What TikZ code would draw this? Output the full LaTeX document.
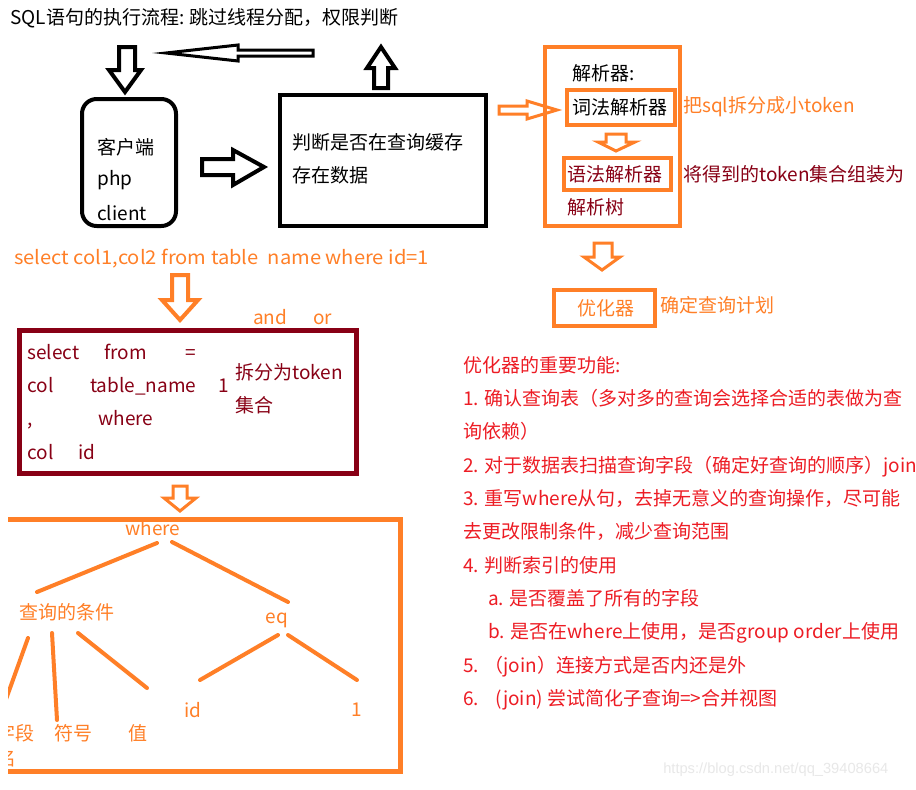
\documentclass[tikz,border=0pt]{standalone}
\usepackage{fontspec}
\setmainfont{Noto Sans CJK SC}
\newfontfamily\widefont[FakeStretch=1.06]{Noto Sans CJK SC}
\newfontfamily\markfont{Liberation Sans}
\definecolor{paintorange}{HTML}{FF7F27}
\definecolor{paintdarkred}{HTML}{880015}
\definecolor{paintred}{HTML}{ED1C24}
\tikzset{
  txt/.style={anchor=west, inner sep=0pt},
  treenode/.style={inner sep=0pt, text=paintorange},
  hollow/.style={draw, line width=3pt, line join=miter, line cap=butt},
  treeline/.style={draw=paintorange, line width=3pt, line cap=round},
}
\begin{document}
\begin{tikzpicture}[x=0.75pt, y=-0.75pt, font=\fontsize{14.25}{25}\selectfont]
	\useasboundingbox (0,0) rectangle (916,789);
	\clip (0,0) rectangle (916,789);
	\fill[white] (0,0) rectangle (916,789);
	% Ablauf oben
	\node[txt] (title) at (10,18) {SQL语句的执行流程: 跳过线程分配，权限判断};
	\draw[hollow] (119,47) -- (135,47) -- (135,70) -- (141,70) -- (125,92) -- (109,70) -- (119,70) -- cycle;
	\draw[hollow, line width=2.25pt] (313,50) -- (313,56) -- (238,56) -- (238,61) -- (166,53) -- (238,45) -- (238,50) -- cycle;
	\draw[hollow] (374,88) -- (388,88) -- (388,68) -- (395,68) -- (381,47) -- (367,68) -- (374,68) -- cycle;
	\draw[hollow] (202,159) -- (233,159) -- (233,150) -- (264,167) -- (233,185) -- (233,175) -- (202,175) -- cycle;
	\draw[line width=3pt, rounded corners=11pt] (82,99) rectangle (176,226);
	\node[txt] (client1) at (97,147) {客户端};
	\node[txt] (client2) at (97,180) {php};
	\node[txt] (client3) at (97,213) {client};
	\draw[line width=3pt] (280,95) rectangle (486,226);
	\node[txt] (judge1) at (292,142) {判断是否在查询缓存};
	\node[txt] (judge2) at (292,175) {存在数据};
	% Parser
	\draw[hollow, draw=paintorange, line width=2.25pt] (499,106) -- (527,106) -- (527,101) -- (557,110) -- (527,119) -- (527,114) -- (499,114) -- cycle;
	\draw[paintorange, line width=3pt] (545,47) rectangle (680,226);
	\draw[paintorange, line width=3pt] (567,90) rectangle (675,125);
	\draw[paintorange, line width=3pt] (564,158) rectangle (671,190);
	\node[txt] (parser) at (572,73) {解析器:};
	\node[txt] (lexer) at (572,107) {词法解析器};
	\node[txt, text=paintorange] (lexnote) at (683,107) {把sql拆分成小token};
	\draw[hollow, draw=paintorange, line width=2.25pt] (606,134) -- (626,134) -- (626,142) -- (635,142) -- (616,151) -- (598,142) -- (606,142) -- cycle;
	\node[txt, text=paintdarkred] (syntax) at (567,174) {语法解析器};
	\node[txt, text=paintdarkred] (synnote) at (683,174) {将得到的token集合组装为};
	\node[txt, text=paintdarkred] (ptree) at (567,207) {解析树};
	\draw[hollow, draw=paintorange, line width=2.25pt] (594,243) -- (612,243) -- (612,257) -- (620,257) -- (602,270) -- (584,257) -- (594,257) -- cycle;
	\draw[paintorange, line width=3pt] (554,290) rectangle (655,326);
	\node[txt, text=paintorange] (optim) at (577,308) {优化器};
	\node[txt, text=paintorange] (plan) at (660,305) {确定查询计划};
	% Token
	\node[txt, anchor=base west, text=paintorange, font=\widefont\fontsize{14.25}{25}\selectfont] (sql) at (14,264) {select col1,col2 from table\ \ name where id=1};
	\draw[hollow, draw=paintorange] (172,275) -- (188,275) -- (188,300) -- (198,300) -- (180,320) -- (162,300) -- (172,300) -- cycle;
	\node[txt, anchor=base west, text=paintorange] (and) at (253,324) {and};
	\node[txt, anchor=base west, text=paintorange] (or) at (313,324) {or};
	\draw[paintdarkred, line width=3.75pt] (19,330) rectangle (356,473);
	\begin{scope}[every node/.style={txt, anchor=base west, text=paintdarkred}]
		\node (tselect) at (27,359) {select};
		\node (tfrom) at (104,359) {from};
		\node (tequal) at (185,359) {=};
		\node (tcol) at (27,392) {col};
		\node (ttable) at (90,392) {table\_name};
		\node (tone) at (218,392) {1};
		\node (tcomma) at (27,425) {,};
		\node (twhere) at (98,425) {where};
		\node (tcolb) at (27,459) {col};
		\node (tid) at (78,459) {id};
	\end{scope}
	\node[txt, text=paintdarkred] (split1) at (235,372) {拆分为token};
	\node[txt, text=paintdarkred] (split2) at (235,405) {集合};
	\draw[hollow, draw=paintorange, line width=2.25pt] (173,486) -- (187,486) -- (187,498) -- (196,498) -- (180,511) -- (164,498) -- (173,498) -- cycle;
	% Baum
	\begin{scope}
		\clip (8,0) rectangle (916,789);
		\draw[paintorange, line width=3.75pt] (0,519) -- (400,519) -- (400,771) -- (0,771);
		\node[treenode] (where) at (153,528) {where};
		\node[treenode] (cond) at (67,612) {查询的条件};
		\node[treenode] (eq) at (277,620) {eq};
		\node[treenode] (id) at (193,710) {id};
		\node[treenode] (one) at (357,710) {1};
		\node[treenode, anchor=east] (field) at (35,733) {字段};
		\node[treenode, anchor=west] (fieldb) at (-3,758) {名};
		\node[treenode] (sym) at (73,733) {符号};
		\node[treenode] (val) at (138,733) {值};
		\draw[treeline] ([shift={(4,15)}]where.center) -- ([shift={(-30,-20)}]cond.center);
		\draw[treeline] ([shift={(19,14)}]where.center) -- ([shift={(11,-18)}]eq.center);
		\draw[treeline] ([shift={(-39,26)}]cond.center) -- ([shift={(-10,-33)}]field.center);
		\draw[treeline] ([shift={(-15,21)}]cond.center) -- ([shift={(-16,-13)}]sym.center);
		\draw[treeline] ([shift={(11,21)}]cond.center) -- ([shift={(9,-45)}]val.center);
		\draw[treeline] ([shift={(1,15)}]eq.center) -- ([shift={(7,-30)}]id.center);
		\draw[treeline] ([shift={(11,15)}]eq.center) -- ([shift={(0,-30)}]one.center);
	\end{scope}
	% Optimierer
	\node[txt, anchor=north west, align=left, text=paintred] (duties) at (463,356) {优化器的重要功能:\\
		1. 确认查询表（多对多的查询会选择合适的表做为查\\
		询依赖）\\
		2. 对于数据表扫描查询字段（确定好查询的顺序）join\\
		3. 重写where从句，去掉无意义的查询操作，尽可能\\
		去更改限制条件，减少查询范围\\
		4. 判断索引的使用\\
		\hspace*{18.75pt}a. 是否覆盖了所有的字段\\
		\hspace*{18.75pt}b. 是否在where上使用，是否group order上使用\\
		5. （join）连接方式是否内还是外\\
		6.\hspace{12pt}(join) 尝试简化子查询=>合并视图};
	\node[txt, font=\markfont\fontsize{11}{13}\selectfont, text=gray!18] (mark) at (663,770) {https://blog.csdn.net/qq\_39408664};
\end{tikzpicture}
\end{document}
